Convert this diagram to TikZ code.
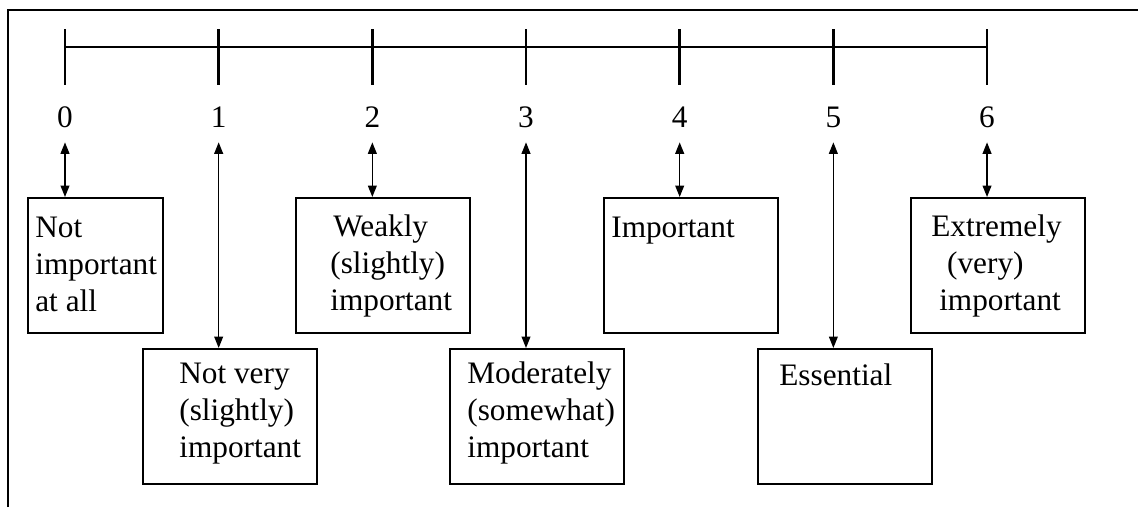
\documentclass[tikz,border=0pt]{standalone}
\usepackage{fontspec}
\setmainfont{Liberation Serif}
\usetikzlibrary{arrows.meta}
\tikzset{
  box/.style={draw, line width=1.3pt, minimum width=174*0.02cm, minimum height=135*0.02cm, inner sep=0pt, anchor=north west},
  lbl/.style={align=left, inner sep=0pt, anchor=base west},
  num/.style={inner xsep=0pt, inner ysep=0.3cm, text depth=0pt, anchor=base},
  link/.style={{Triangle[length=6.5pt,width=5pt]}-{Triangle[length=6.5pt,width=5pt]}, line width=0.8pt},
}
\begin{document}
\begin{tikzpicture}[x=0.02cm, y=-0.02cm, font=\fontsize{17.8}{21}\selectfont]
  \useasboundingbox (0,0) rectangle (1138,507);
  % frame (top and left only)
  \draw[line width=1.1pt] (8,507) -- (8,10) -- (1138,10);
  % scale with ticks and numbers
  \draw[line width=1.6pt] (65,47) -- (987,47);
  \foreach \i in {0,...,6} {
    \draw[line width=1.6pt] ({65+153.67*\i},29) -- ({65+153.67*\i},85);
    \node[num] (n\i) at ({65+153.67*\i},127) {\i};
  }
  % boxes
  \node[box, minimum width=135*0.02cm] (b0) at (27,197) {};
  \node[box] (b1) at (142,348) {};
  \node[box] (b2) at (295,197) {};
  \node[box] (b3) at (449,348) {};
  \node[box] (b4) at (603,197) {};
  \node[box] (b5) at (757,348) {};
  \node[box] (b6) at (910,197) {};
  % box texts (base = last line)
  \node[lbl] (t0) at (35,311) {Not\\important\\at all};
  \node[lbl] (t1) at (179,457) {Not very\\(slightly)\\important};
  \node[lbl] (t2) at (330,310) {\hspace*{1.7pt}Weakly\\(slightly)\\important};
  \node[lbl] (t3) at (467,457) {Moderately\\(somewhat)\\important};
  \node[lbl] (t4) at (611,237) {Important};
  \node[lbl] (t5) at (779,385) {Essential};
  \node[lbl] (t6) at (931,310) {Extremely\\\hspace*{9pt}(very)\\\hspace*{4.5pt}important};
  % arrows from numbers to boxes
  \foreach \i in {0,...,6}
    \draw[link] (n\i.south) -- (n\i.south |- b\i.north);
\end{tikzpicture}
\end{document}
